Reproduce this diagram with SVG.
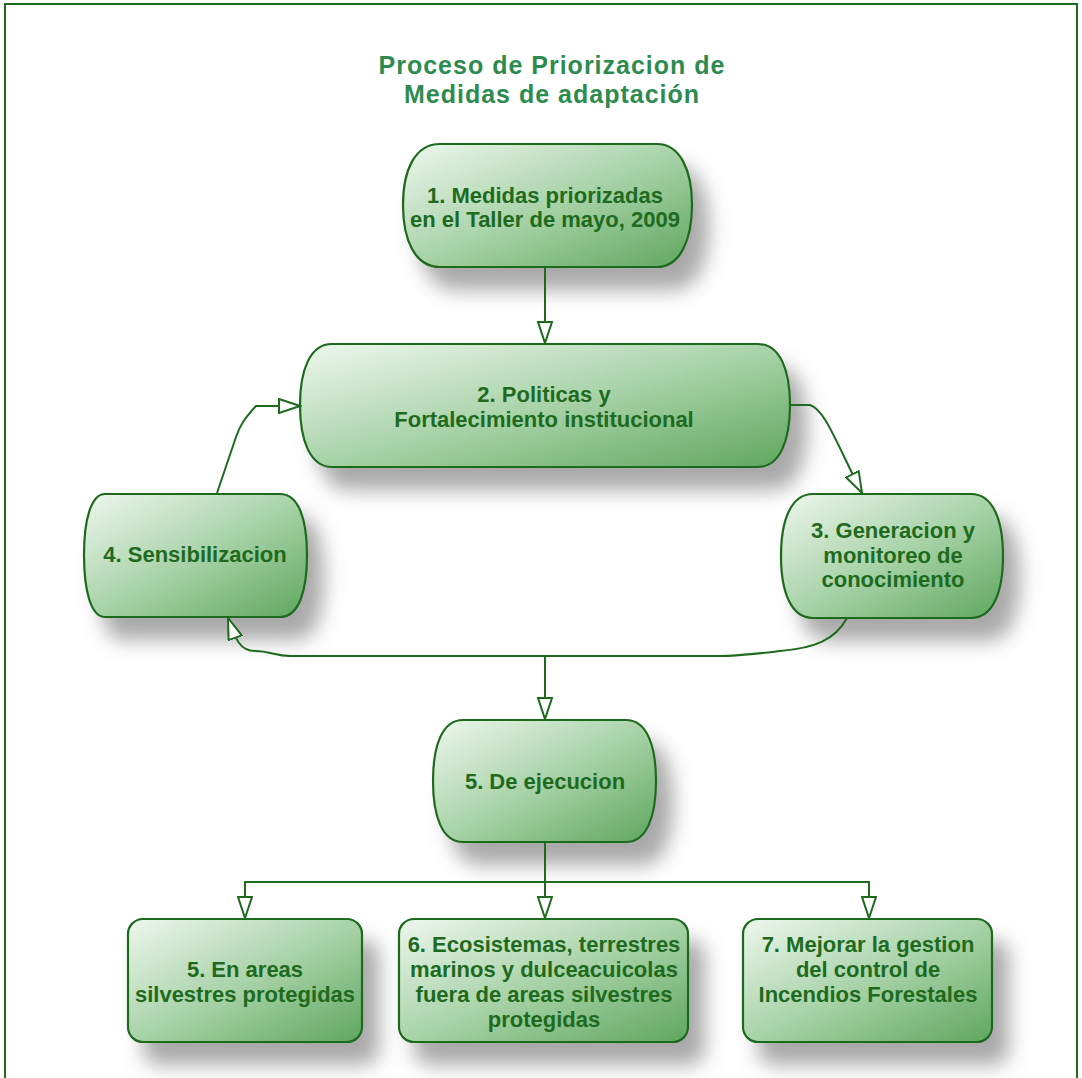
<svg xmlns="http://www.w3.org/2000/svg" width="1082" height="1078" viewBox="0 0 1082 1078">
<defs>
<linearGradient id="g" x1="0" y1="0" x2="1" y2="1">
<stop offset="0" stop-color="#eef7ee"/>
<stop offset="0.5" stop-color="#a9d3a9"/>
<stop offset="1" stop-color="#5ea75e"/>
</linearGradient>
<filter id="sh" x="-20%" y="-20%" width="160%" height="180%">
<feGaussianBlur in="SourceAlpha" stdDeviation="10"/>
<feOffset dx="16" dy="22" result="b"/>
<feFlood flood-color="#707070" flood-opacity="0.6"/>
<feComposite in2="b" operator="in"/>
<feMerge><feMergeNode/><feMergeNode in="SourceGraphic"/></feMerge>
</filter>
<marker id="ah" markerWidth="24" markerHeight="16" refX="22" refY="8" orient="auto" markerUnits="userSpaceOnUse">
<path d="M1,1 L22,8 L1,15 Z" fill="#ffffff" stroke="#1e6b1e" stroke-width="2" stroke-linejoin="miter"/>
</marker>
</defs>
<style>
.node{fill:url(#g);stroke:#1e6b1e;stroke-width:2.2;filter:url(#sh)}
.t{font-family:"Liberation Sans",Arial,sans-serif;font-weight:bold;font-size:22px;fill:#1e6b1e;text-anchor:middle}
.title{font-family:"Liberation Sans",Arial,sans-serif;font-weight:bold;font-size:25px;fill:#2e8b50;text-anchor:middle;letter-spacing:1px}
.c{fill:none;stroke:#1e6b1e;stroke-width:2}
</style>
<rect width="1082" height="1078" fill="#ffffff"/>
<path d="M5,1078 V4 H1077 V1078" fill="none" stroke="#1e6b1e" stroke-width="2"/>
<g id="title">
<text class="title" x="552" y="74">Proceso de Priorizacion de</text>
<text class="title" x="552" y="103">Medidas de adaptación</text>
</g>
<g id="n1">
<path class="node" d="M440,144 H657 C680,144 692,170 692,205 C692,240 680,267 657,267 H440 C415,267 403,240 403,205 C403,170 415,144 440,144 Z"/>
<text class="t" x="545" y="203">1. Medidas priorizadas</text>
<text class="t" x="545" y="227">en el Taller de mayo, 2009</text>
</g>
<g id="n2">
<path class="node" d="M332,344 H758 C780,344 790,370 790,405 C790,440 780,467 758,467 H332 C310,467 300,440 300,405 C300,370 310,344 332,344 Z"/>
<text class="t" x="544" y="402">2. Politicas y</text>
<text class="t" x="544" y="427">Fortalecimiento institucional</text>
</g>
<g id="n3">
<path class="node" d="M813,494 H971 C993,494 1003,520 1003,556 C1003,592 993,618 971,618 H813 C791,618 781,592 781,556 C781,520 791,494 813,494 Z"/>
<text class="t" x="893" y="538">3. Generacion y</text>
<text class="t" x="893" y="563">monitoreo de</text>
<text class="t" x="893" y="587">conocimiento</text>
</g>
<g id="n4">
<path class="node" d="M105,494 H280 C299,494 307,520 307,555 C307,591 299,617 280,617 H105 C91,617 84,591 84,555 C84,520 91,494 105,494 Z"/>
<text class="t" x="195" y="562">4. Sensibilizacion</text>
</g>
<g id="n5">
<path class="node" d="M463,720 H626 C647,720 656,746 656,781 C656,816 647,842 626,842 H463 C442,842 433,816 433,781 C433,746 442,720 463,720 Z"/>
<text class="t" x="545" y="789">5. De ejecucion</text>
</g>
<g id="n5a">
<rect class="node" x="128" y="919" width="234" height="123" rx="15" ry="15"/>
<text class="t" x="245" y="977">5. En areas</text>
<text class="t" x="245" y="1002">silvestres protegidas</text>
</g>
<g id="n6">
<rect class="node" x="399" y="919" width="289" height="123" rx="15" ry="15"/>
<text class="t" x="544" y="952">6. Ecosistemas, terrestres</text>
<text class="t" x="544" y="977">marinos y dulceacuicolas</text>
<text class="t" x="544" y="1002">fuera de areas silvestres</text>
<text class="t" x="544" y="1027">protegidas</text>
</g>
<g id="n7">
<rect class="node" x="743" y="919" width="249" height="123" rx="15" ry="15"/>
<text class="t" x="868" y="952">7. Mejorar la gestion</text>
<text class="t" x="868" y="977">del control de</text>
<text class="t" x="868" y="1002">Incendios Forestales</text>
</g>
<g id="connectors">
<path class="c" d="M545,267 V343" marker-end="url(#ah)"/>
<path class="c" d="M790,405 H810 C825,410 835,440 862,493" marker-end="url(#ah)"/>
<path class="c" d="M217,493 L236,437 C240,425 245,418 256,406 H300" marker-end="url(#ah)"/>
<path class="c" d="M847,618 C835,640 815,648 780,651 C755,654 740,656 720,656 H290 C275,656 270,651 255,651 C240,651 236,640 228,618" marker-end="url(#ah)"/>
<path class="c" d="M545,656 V719" marker-end="url(#ah)"/>
<path class="c" d="M545,842 V918" marker-end="url(#ah)"/>
<path class="c" d="M545,882 H245 V918" marker-end="url(#ah)"/>
<path class="c" d="M545,882 H869 V918" marker-end="url(#ah)"/>
</g>
</svg>
